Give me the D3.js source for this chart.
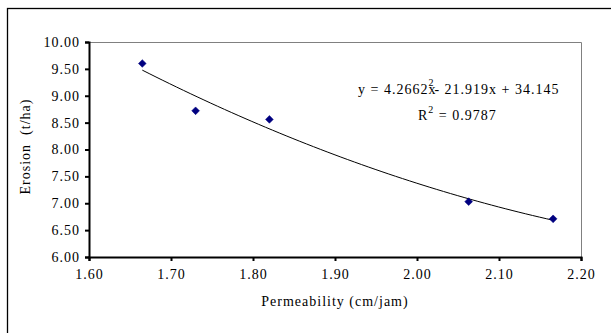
<!DOCTYPE html>
<meta charset="utf-8">
<script src="https://cdn.jsdelivr.net/npm/d3@7"></script>
<style>
body{margin:0;background:#fff;}
text{font-family:"Liberation Serif","Times New Roman",serif;fill:#000;}
</style>
<body>
<script>
// data
var permeability=[1.665,1.730,1.820,2.063,2.166];
var erosion=[9.60,8.72,8.56,7.03,6.71];
var xTicks=[1.6,1.7,1.8,1.9,2.0,2.1,2.2];
var yTicks=[6.0,6.5,7.0,7.5,8.0,8.5,9.0,9.5,10.0];
var trendCoef=[4.2662,-21.919,34.145]; // a,b,c as printed on chart
var rSquared="0.9787";

var W=611,H=333;
var svg=d3.select("body").append("svg").attr("width",W).attr("height",H);

// outer chart border (runs off the picture at right/bottom)
svg.append("rect").attr("x",7.5).attr("y",8.5).attr("width",640).attr("height",360)
   .attr("fill","#fff").attr("stroke","#000").attr("stroke-width",1.3);

var pl=89,pr=581,pt=42,pb=257;
var x=d3.scaleLinear().domain([1.6,2.2]).range([pl,pr]);
var y=d3.scaleLinear().domain([6,10]).range([pb,pt]);

// plot area frame (gray top/right)
svg.append("path").attr("d","M"+pl+","+(pt+0.5)+"H"+(pr+0.5)+"V"+pb)
   .attr("fill","none").attr("stroke","#808080").attr("stroke-width",1);

var xAxis=svg.append("g").attr("transform","translate(0,"+pb+")")
  .call(d3.axisBottom(x).tickValues(xTicks).tickFormat(d3.format(".2f")).tickSizeOuter(0).tickSize(4).tickPadding(8));
var yAxis=svg.append("g").attr("transform","translate("+pl+",0)")
  .call(d3.axisLeft(y).tickValues(yTicks).tickFormat(d3.format(".2f")).tickSizeOuter(0).tickSize(4).tickPadding(5));
[xAxis,yAxis].forEach(function(g){
  g.select(".domain").attr("stroke","#000").attr("stroke-width",2);
  g.selectAll(".tick line").attr("stroke","#000").attr("stroke-width",2);
  g.selectAll(".tick text").style("font-family","Liberation Serif").style("font-size","14px")
   .style("letter-spacing","1px").attr("fill","#000");
});

// trendline
var tl=[],x0=d3.min(permeability),x1=d3.max(permeability);
for(var i=0;i<=60;i++){var xv=x0+(x1-x0)*i/60;tl.push([xv,trendCoef[0]*xv*xv+trendCoef[1]*xv+trendCoef[2]]);}
svg.append("path").datum(tl)
  .attr("d",d3.line().x(function(d){return x(d[0]);}).y(function(d){return y(d[1]);}))
  .attr("fill","none").attr("stroke","#000").attr("stroke-width",1);

// points (square turned 45deg = Excel diamond)
svg.selectAll(".pt").data(permeability).enter().append("path").attr("class","pt")
  .attr("d",d3.symbol().type(d3.symbolSquare).size(30))
  .attr("transform",function(d,i){return "translate("+x(d)+","+y(erosion[i])+") rotate(45)";})
  .attr("fill","#000080").attr("stroke","#000080").attr("stroke-width",0.5);

// equation
var eq=svg.append("text").attr("x",358).attr("y",94).style("font-size","14px").style("letter-spacing","1px");
eq.append("tspan").text("y = "+trendCoef[0]+"x");
eq.append("tspan").attr("dx",-8).attr("dy",-8).style("font-size","10px").text("2");
eq.append("tspan").attr("dy",8).text("- "+Math.abs(trendCoef[1])+"x + "+trendCoef[2]);
var r2=svg.append("text").attr("x",418).attr("y",120).style("font-size","14px").style("letter-spacing","1px");
r2.append("tspan").text("R");
r2.append("tspan").attr("dy",-7).style("font-size","10px").text("2");
r2.append("tspan").attr("dy",7).text(" = "+rSquared);

// axis titles
svg.append("text").attr("x",(pl+pr)/2).attr("y",306).attr("text-anchor","middle")
  .style("font-size","14px").style("letter-spacing","1px").text("Permeability (cm/jam)");
svg.append("text").attr("transform","translate(30,"+((pt+pb)/2-3)+") rotate(-90)")
  .attr("text-anchor","middle").style("font-size","14px").style("letter-spacing","1px")
  .style("white-space","pre").text("Erosion  (t/ha)");
</script>
</body>
</html>
